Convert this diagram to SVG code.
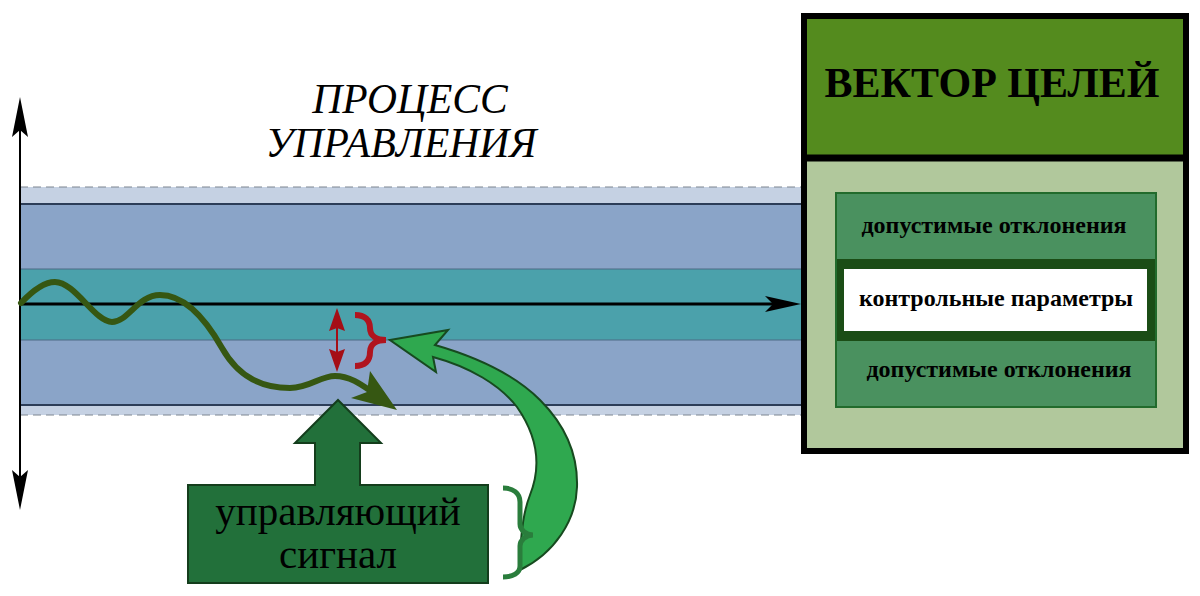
<svg xmlns="http://www.w3.org/2000/svg" width="1200" height="596" viewBox="0 0 1200 596">
<style>
text{font-family:"Liberation Serif","Times New Roman","DejaVu Serif",serif;}
.dash{stroke:#7d8590;stroke-width:1;stroke-dasharray:8,5;fill:none;}
.edge{stroke:#2c3d58;stroke-width:2;fill:none;}
.thin{stroke:#4d6a85;stroke-width:1;fill:none;}
.panel-txt{font-weight:bold;font-size:24px;text-anchor:middle;fill:#000;}
</style>
<rect width="1200" height="596" fill="#fff"/>

<g id="process-band">
  <rect x="20" y="187" width="782" height="228" fill="#c5d1e3"/>
  <rect x="20" y="204" width="782" height="201" fill="#8aa4c8"/>
  <rect x="20" y="269" width="782" height="71" fill="#4ba1ab"/>
  <line class="dash" x1="20" y1="187" x2="802" y2="187"/>
  <line class="dash" x1="20" y1="415" x2="802" y2="415"/>
  <line class="edge" x1="20" y1="204" x2="802" y2="204"/>
  <line class="edge" x1="20" y1="405" x2="802" y2="405"/>
  <line class="thin" x1="20" y1="269" x2="802" y2="269"/>
  <line class="thin" x1="20" y1="340" x2="802" y2="340"/>
</g>

<g id="title">
  <text x="410" y="113" font-family="Liberation Serif, serif" font-size="41.5" font-style="italic" text-anchor="middle">ПРОЦЕСС</text>
  <text x="401" y="157" font-family="Liberation Serif, serif" font-size="41.5" font-style="italic" text-anchor="middle">УПРАВЛЕНИЯ</text>
</g>

<g id="goal-vector">
  <rect x="804" y="16" width="382" height="435" fill="#b1c89c" stroke="#000" stroke-width="6"/>
  <rect x="807" y="19" width="376" height="139" fill="#548b1e"/>
  <line x1="804" y1="158" x2="1186" y2="158" stroke="#000" stroke-width="7"/>
  <text x="992" y="97" font-family="Liberation Serif, serif" font-size="42" font-weight="bold" text-anchor="middle">ВЕКТОР ЦЕЛЕЙ</text>
  <rect x="836" y="193" width="320" height="214" fill="#4a915f" stroke="#226b2c" stroke-width="2"/>
  <rect x="837" y="259" width="318" height="82" fill="#1b4d16"/>
  <rect x="844" y="269" width="303" height="62" fill="#fff"/>
  <text class="panel-txt" x="994" y="233" font-family="Liberation Serif, serif">допустимые отклонения</text>
  <text class="panel-txt" x="996" y="306" font-family="Liberation Serif, serif">контрольные параметры</text>
  <text class="panel-txt" x="999" y="377" font-family="Liberation Serif, serif">допустимые отклонения</text>
</g>

<g id="control-signal">
  <path d="M188,485 L315,485 L315,443 L295,443 L338,400 L381,443 L360,443 L360,485 L488,485 L488,583 L188,583 Z" fill="#22703a" stroke="#143d1c" stroke-width="2" stroke-linejoin="miter"/>
  <text x="338" y="525" font-family="Liberation Serif, serif" font-size="41" text-anchor="middle">управляющий</text>
  <text x="338" y="568" font-family="Liberation Serif, serif" font-size="41" text-anchor="middle">сигнал</text>
</g>

<g id="connectors">
  <!-- vertical axis -->
  <line x1="20" y1="128" x2="20" y2="480" stroke="#000" stroke-width="2"/>
  <polygon points="20,97 28,137 20,130 12,137" fill="#000"/>
  <polygon points="20,510 28,470 20,477 12,470" fill="#000"/>
  <!-- center line -->
  <line x1="20" y1="304" x2="775" y2="304" stroke="#000" stroke-width="3"/>
  <polygon points="801,304 765,296 773,304 765,312" fill="#000"/>
  <!-- process wave -->
  <path d="M21,303 C35,288 45,282 55,282 C75,282 95,322 112,322 C128,322 138,295 160,295 C185,295 205,318 222,348 C240,380 265,388 290,388 C310,388 320,376 335,376 C350,376 362,385 372,392" fill="none" stroke="#365712" stroke-width="6" stroke-linecap="round"/>
  <polygon points="397,410 370,371 367,392 351,398" fill="#365712"/>
  <!-- red deviation double arrow -->
  <line x1="337" y1="325" x2="337" y2="355" stroke="#a50e16" stroke-width="2"/>
  <polygon points="337,308 345,331 337,328 329,331" fill="#a50e16"/>
  <polygon points="337,372 345,349 337,352 329,349" fill="#a50e16"/>
  <!-- red brace -->
  <path d="M355,315 C365,315 370,320 370,328 C370,336 377,340 386,340 C377,340 370,344 370,352 C370,361 365,366 355,366" fill="none" stroke="#b0141f" stroke-width="6"/>
  <!-- feedback curved arrow -->
  <path d="M390,340 L448,330 L435,345 C480,358 515,375 540,400 C565,425 578,455 577,487 C576,520 555,553 520,570 C520,540 522,515 530,495 C540,470 540,440 517,407 C500,385 470,367 433,357 L436,372 Z" fill="#2fa84f" stroke="#174a1f" stroke-width="2" stroke-linejoin="miter"/>
  <!-- green brace -->
  <path d="M503,488 C513,488 520,493 520,502 L520,524 C520,530 526,535 533,535 C526,535 520,540 520,546 L520,566 C520,573 513,577 503,577" fill="none" stroke="#2a7d3c" stroke-width="5"/>
</g>
</svg>
